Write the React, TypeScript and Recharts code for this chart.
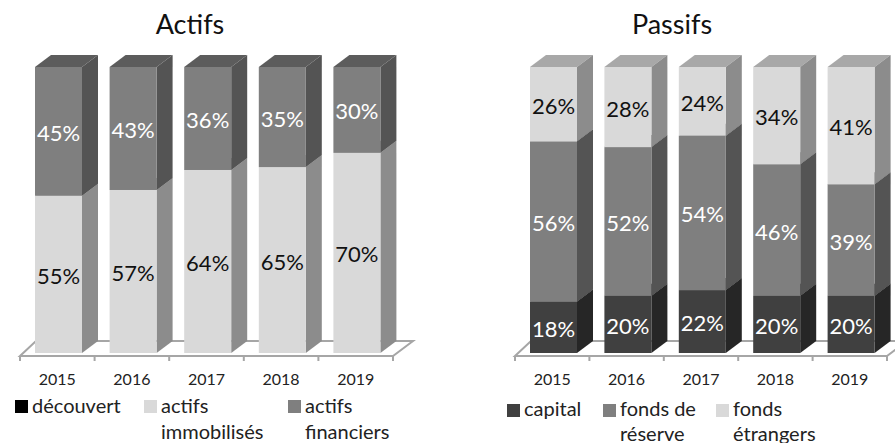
import { BarChart, Bar, XAxis, YAxis, Legend, LabelList, usePlotArea } from "recharts";

const FONT = "Lato, sans-serif";

const years = ["2015", "2016", "2017", "2018", "2019"];

// Actifs
const decouvert = [0, 0, 0, 0, 0];
const actifsImmobilises = [55, 57, 64, 65, 70];
const actifsFinanciers = [45, 43, 36, 35, 30];

// Passifs
const capital = [18, 20, 22, 20, 20];
const fondsReserve = [56, 52, 54, 46, 39];
const fondsEtrangers = [26, 28, 24, 34, 41];

const actifsData = years.map((year, i) => ({
  year,
  decouvert: decouvert[i],
  immobilises: actifsImmobilises[i],
  financiers: actifsFinanciers[i],
}));

const passifsData = years.map((year, i) => ({
  year,
  capital: capital[i],
  reserve: fondsReserve[i],
  etrangers: fondsEtrangers[i],
}));

// front / side / top shades of the fake 3D columns
const BLACK = { front: "#000000", side: "#000000", top: "#000000" };
const DARK = { front: "#404040", side: "#262626", top: "#333333" };
const MID = { front: "#7f7f7f", side: "#545454", top: "#5c5c5c" };
const LIGHT = { front: "#d9d9d9", side: "#8c8c8c", top: "#a8a8a8" };

const DEPTH_X = 16;
const DEPTH_Y = 12;

/** One stacked segment drawn as a box: front face, side and lid. */
function Box({ x, y, width, height, shade }: any) {
  if (!height) return null;
  const x0 = x + 1;
  const x1 = x0 + width;
  const y1 = y + height;
  return (
    <g>
      <polygon
        points={`${x0},${y} ${x0 + DEPTH_X},${y - DEPTH_Y} ${x1 + DEPTH_X},${y - DEPTH_Y} ${x1},${y}`}
        fill={shade.top}
      />
      <polygon
        points={`${x1},${y} ${x1 + DEPTH_X},${y - DEPTH_Y} ${x1 + DEPTH_X},${y1 - DEPTH_Y} ${x1},${y1}`}
        fill={shade.side}
      />
      <rect x={x0} y={y} width={width} height={height} fill={shade.front} />
    </g>
  );
}

/** Percent label centred on the front face. */
function pctLabel(color: string) {
  return ({ x, y, width, height, value }: any) =>
    value ? (
      <text
        x={x + width / 2 + 1}
        y={y + height / 2 + 4}
        fill={color}
        fontFamily={FONT}
        fontSize={22}
        textAnchor="middle"
        dominantBaseline="middle"
      >
        {value}%
      </text>
    ) : null;
}

/** The 3D floor with its category tick marks. */
function Floor() {
  const plot = usePlotArea();
  if (!plot) return null;
  const left = plot.x;
  const right = plot.x + plot.width;
  const front = plot.y + plot.height + 3;
  const back = front - 15;
  const band = plot.width / years.length;
  return (
    <g>
      <polygon
        points={`${left},${front} ${left + 16},${back} ${right + 20},${back} ${right},${front}`}
        fill="#ffffff"
        stroke="#a6a6a6"
        strokeWidth={2}
      />
      {[0, 1, 2, 3, 4, 5].map((i) => (
        <line
          key={i}
          x1={left + band * i}
          x2={left + band * i}
          y1={front}
          y2={front + 5}
          stroke="#a6a6a6"
          strokeWidth={2}
        />
      ))}
    </g>
  );
}

/** Legend with fixed slots, its labels wrapping on two lines like the original. */
function legendContent(items: any[], lineHeight: number) {
  return () => (
    <div style={{ position: "relative", height: 0, fontFamily: FONT, fontSize: 20, color: "#222222" }}>
      {items.map((item) => (
        <div key={item.lines[0]}>
          <div
            style={{
              position: "absolute",
              left: item.left,
              top: 8,
              width: 13,
              height: 13,
              background: item.color,
            }}
          />
          <div
            style={{
              position: "absolute",
              left: item.left + 17,
              top: 0,
              lineHeight: `${lineHeight}px`,
              whiteSpace: "nowrap",
            }}
          >
            {item.lines.map((l: string) => (
              <div key={l}>{l}</div>
            ))}
          </div>
        </div>
      ))}
    </div>
  );
}

const actifsLegend = [
  { left: 15, color: "#000000", lines: ["découvert"] },
  { left: 144, color: "#d9d9d9", lines: ["actifs", "immobilisés"] },
  { left: 288, color: "#7f7f7f", lines: ["actifs", "financiers"] },
];

const passifsLegend = [
  { left: 60, color: "#404040", lines: ["capital"] },
  { left: 156, color: "#7f7f7f", lines: ["fonds de", "réserve"] },
  { left: 269, color: "#d9d9d9", lines: ["fonds", "étrangers"] },
];

const axisTick = { fill: "#222222", fontSize: 16, fontFamily: FONT };

function ChartTitle({ x, label }: { x: number; label: string }) {
  return (
    <text x={x} y={34} textAnchor="middle" fontFamily={FONT} fontSize={27} fill="#111111">
      {label}
    </text>
  );
}

export default function App() {
  return (
    <div style={{ position: "absolute", left: 0, top: 0, width: 895, height: 443, overflow: "hidden", background: "#ffffff" }}>
      <div style={{ position: "absolute", left: 0, top: 0 }}>
        <BarChart
          width={447}
          height={443}
          data={actifsData}
          margin={{ top: 67, right: 54, bottom: 60, left: 20 }}
          barSize={47}
        >
          <Floor />
          <ChartTitle x={190} label="Actifs" />
          <XAxis dataKey="year" axisLine={false} tickLine={false} tick={axisTick} height={30} tickMargin={15} />
          <YAxis hide domain={[0, 100]} />
          <Legend
            wrapperStyle={{ position: "absolute", left: 0, top: 392, width: 447, height: 0 }}
            content={legendContent(actifsLegend, 26)}
          />
          <Bar dataKey="decouvert" name="découvert" stackId="a" fill={BLACK.front} isAnimationActive={false} shape={(p: any) => <Box {...p} shade={BLACK} />} />
          <Bar dataKey="immobilises" name="actifs immobilisés" stackId="a" fill={LIGHT.front} isAnimationActive={false} shape={(p: any) => <Box {...p} shade={LIGHT} />}>
            <LabelList dataKey="immobilises" content={pctLabel("#111111")} />
          </Bar>
          <Bar dataKey="financiers" name="actifs financiers" stackId="a" fill={MID.front} isAnimationActive={false} shape={(p: any) => <Box {...p} shade={MID} />}>
            <LabelList dataKey="financiers" content={pctLabel("#ffffff")} />
          </Bar>
        </BarChart>
      </div>
      <div style={{ position: "absolute", left: 447, top: 0 }}>
        <BarChart
          width={448}
          height={443}
          data={passifsData}
          margin={{ top: 67, right: 8, bottom: 60, left: 68 }}
          barSize={47}
        >
          <Floor />
          <ChartTitle x={225} label="Passifs" />
          <XAxis dataKey="year" axisLine={false} tickLine={false} tick={axisTick} height={30} tickMargin={15} />
          <YAxis hide domain={[0, 100]} />
          <Legend
            wrapperStyle={{ position: "absolute", left: 0, top: 396, width: 448, height: 0 }}
            content={legendContent(passifsLegend, 25)}
          />
          <Bar dataKey="capital" name="capital" stackId="a" fill={DARK.front} isAnimationActive={false} shape={(p: any) => <Box {...p} shade={DARK} />}>
            <LabelList dataKey="capital" content={pctLabel("#ffffff")} />
          </Bar>
          <Bar dataKey="reserve" name="fonds de réserve" stackId="a" fill={MID.front} isAnimationActive={false} shape={(p: any) => <Box {...p} shade={MID} />}>
            <LabelList dataKey="reserve" content={pctLabel("#ffffff")} />
          </Bar>
          <Bar dataKey="etrangers" name="fonds étrangers" stackId="a" fill={LIGHT.front} isAnimationActive={false} shape={(p: any) => <Box {...p} shade={LIGHT} />}>
            <LabelList dataKey="etrangers" content={pctLabel("#111111")} />
          </Bar>
        </BarChart>
      </div>
    </div>
  );
}
